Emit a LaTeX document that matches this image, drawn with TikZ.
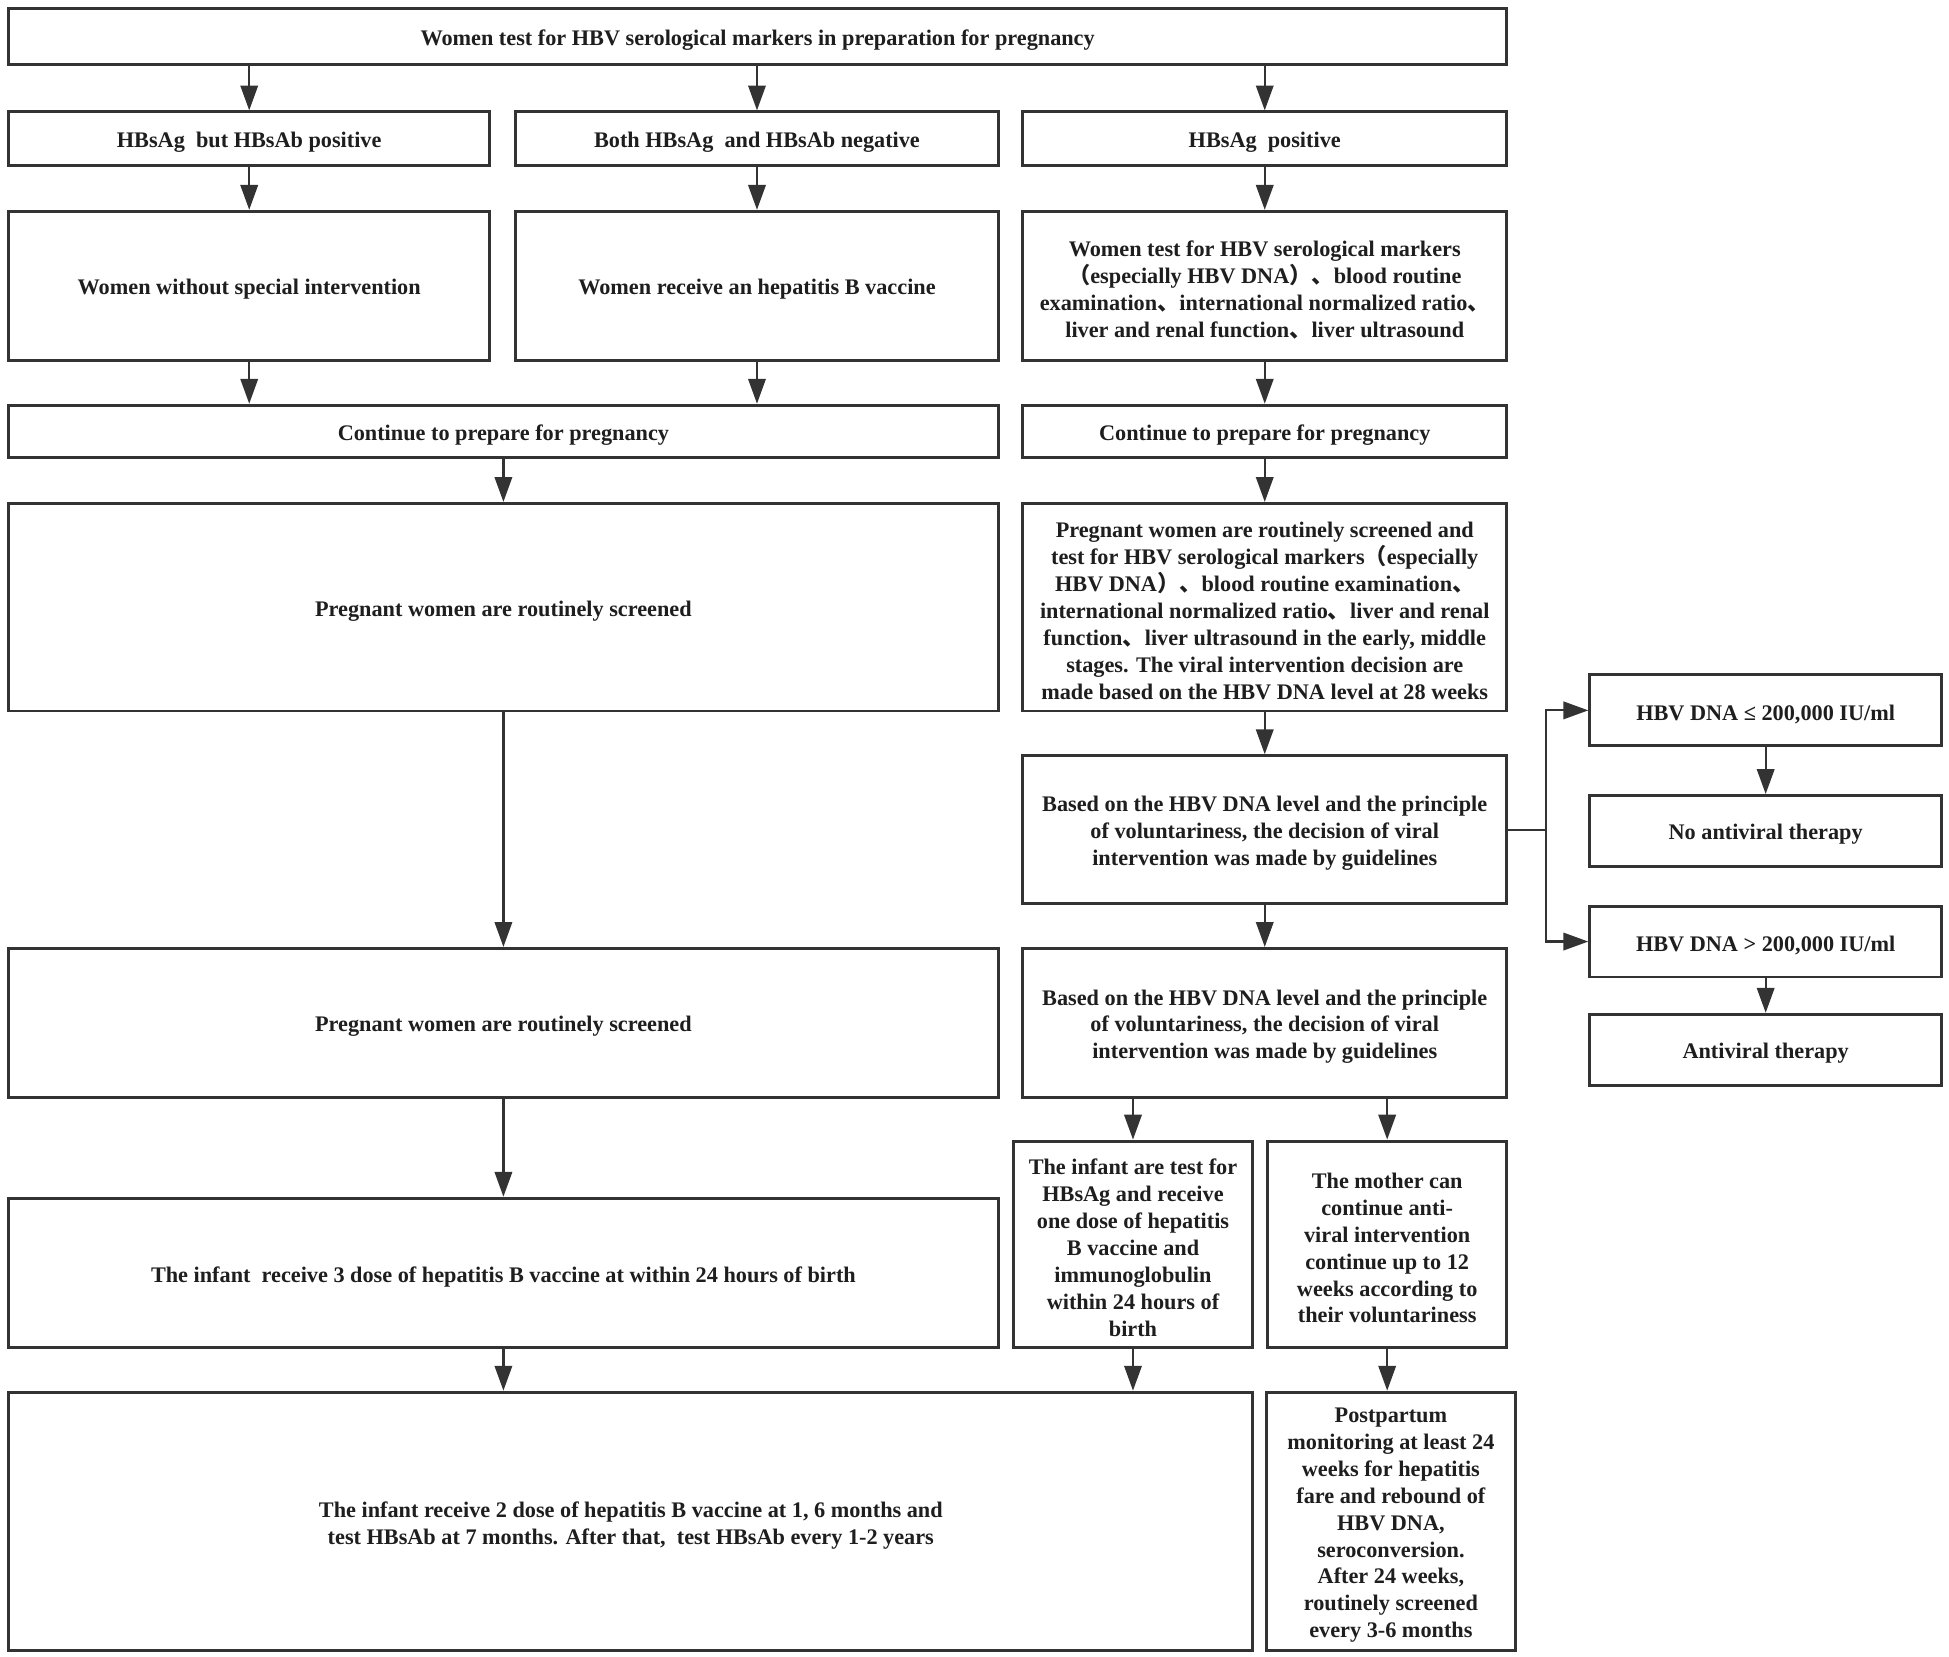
\documentclass[tikz,border=0pt]{standalone}
\usepackage{fontspec}
\setmainfont{Liberation Serif}
\newfontfamily\cjk{Noto Sans CJK SC}
\usetikzlibrary{arrows.meta}
\newcommand{\lpn}{{\cjk （}}
\newcommand{\rpn}{{\cjk ）}}
\newcommand{\dun}{{\cjk 、}}
\definecolor{ln}{HTML}{333333}
\definecolor{tx}{HTML}{1E1E1E}
\newcommand{\mybox}[6]{\node[box, minimum width={(#4-#2)*0.5pt}, minimum height={(#5-#3)*0.5pt}] (#1) at ({(#2+#4)/2},{(#3+#5)/2}) {};
  \node[boxtext] (#1-t) at ([yshift=-1.5pt]#1.center) {#6};}
\begin{document}
\begin{tikzpicture}[x=0.5pt,y=-0.5pt,
  box/.style={draw=ln, line width=1.2pt, fill=white, inner sep=0pt},
  boxtext/.style={inner sep=0pt, align=center, text=tx,
    font=\bfseries\fontsize{8.95}{10.85}\selectfont},
  arr/.style={draw=ln, line width=0.9pt, -{Triangle[length=10pt,width=7pt]}},
  ln/.style={draw=ln, line width=0.9pt}]
\useasboundingbox[fill=white] (0,0) rectangle (1568,1333);
% row 1
\mybox{top}{7}{7}{1212}{52}{Women test for HBV serological markers in preparation for pregnancy}
% row 2
\mybox{a2}{7}{90}{394}{133}{HBsAg\ \ but HBsAb positive}
\mybox{b2}{415}{90}{803}{133}{Both HBsAg\ \ and HBsAb negative}
\mybox{c2}{823}{90}{1212}{133}{HBsAg\ \ positive}
% row 3
\mybox{a3}{7}{170}{394}{290}{Women without special intervention}
\mybox{b3}{415}{170}{803}{290}{Women receive an hepatitis B vaccine}
\mybox{c3}{823}{170}{1212}{290}{Women test for HBV serological markers\\\lpn especially HBV DNA\rpn\dun blood routine\\examination\dun international normalized ratio\dun\\liver and renal function\dun liver ultrasound}
% row 4
\mybox{l4}{7}{326}{803}{368}{Continue to prepare for pregnancy}
\mybox{r4}{823}{326}{1212}{368}{Continue to prepare for pregnancy}
% row 5
\mybox{l5}{7}{405}{803}{572}{Pregnant women are routinely screened}
\mybox{r5}{823}{405}{1212}{572}{Pregnant women are routinely screened and\\test for HBV serological markers\lpn especially\\HBV DNA\rpn\dun blood routine examination\dun\\international normalized ratio\dun liver and renal\\function\dun liver ultrasound in the early, middle\\stages. The viral intervention decision are\\made based on the HBV DNA level at 28 weeks}
% row 6
\mybox{r6}{823}{608}{1212}{727}{Based on the HBV DNA level and the principle\\of voluntariness, the decision of viral\\intervention was made by guidelines}
% side boxes
\mybox{d1}{1279}{543}{1562}{600}{HBV DNA ≤ 200,000 IU/ml}
\mybox{n1}{1279}{640}{1562}{697}{No antiviral therapy}
\mybox{d2}{1279}{729}{1562}{786}{HBV DNA > 200,000 IU/ml}
\mybox{n2}{1279}{816}{1562}{873}{Antiviral therapy}
% row 7
\mybox{l7}{7}{763}{803}{883}{Pregnant women are routinely screened}
\mybox{r7}{823}{763}{1212}{883}{Based on the HBV DNA level and the principle\\of voluntariness, the decision of viral\\intervention was made by guidelines}
% row 8
\mybox{l8}{7}{964}{803}{1084}{The infant\ \ receive 3 dose of hepatitis B vaccine at within 24 hours of birth}
\mybox{m8}{815}{918}{1008}{1084}{The infant are test for\\HBsAg and receive\\one dose of hepatitis\\B vaccine and\\immunoglobulin\\within 24 hours of\\birth}
\mybox{q8}{1020}{918}{1212}{1084}{The mother can\\continue anti-\\viral intervention\\continue up to 12\\weeks according to\\their voluntariness}
% row 9
\mybox{l9}{7}{1120}{1008}{1328}{The infant receive 2 dose of hepatitis B vaccine at 1, 6 months and\\test HBsAb at 7 months. After that,\ \ test HBsAb every 1-2 years}
\mybox{q9}{1019}{1120}{1219}{1328}{Postpartum\\monitoring at least 24\\weeks for hepatitis\\fare and rebound of\\HBV DNA,\\seroconversion.\\After 24 weeks,\\routinely screened\\every 3-6 months}
% arrows
\draw[arr] (top.south -| a2.north) -- (a2.north);
\draw[arr] (top.south -| b2.north) -- (b2.north);
\draw[arr] (top.south -| c2.north) -- (c2.north);
\draw[arr] (a2) -- (a3);
\draw[arr] (b2) -- (b3);
\draw[arr] (c2) -- (c3);
\draw[arr] (a3.south) -- (a3.south |- l4.north);
\draw[arr] (b3.south) -- (b3.south |- l4.north);
\draw[arr] (c3) -- (r4);
\draw[arr] (l4) -- (l5);
\draw[arr] (r4) -- (r5);
\draw[arr] (l5) -- (l7);
\draw[arr] (r5) -- (r6);
\draw[arr] (r6) -- (r7);
\coordinate (bx) at (1244,668);
\draw[arr] (r6.east) -- (r6.east -| bx) |- (d1.west);
\draw[arr] (r6.east -| bx) |- (d2.west);
\draw[arr] (d1) -- (n1);
\draw[arr] (d2) -- (n2);
\draw[arr] (l7) -- (l8);
\draw[arr] (r7.south -| m8.north) -- (m8.north);
\draw[arr] (r7.south -| q8.north) -- (q8.north);
\draw[arr] (l8.south) -- (l8.south |- l9.north);
\draw[arr] (m8.south) -- (m8.south |- l9.north);
\draw[arr] (q8.south) -- (q8.south |- q9.north);
\end{tikzpicture}
\end{document}
